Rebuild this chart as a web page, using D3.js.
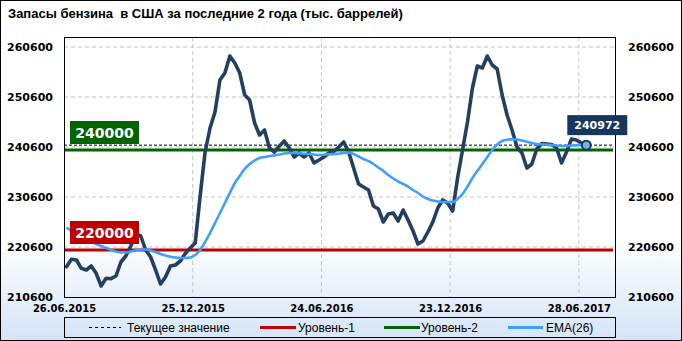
<!DOCTYPE html>
<html><head><meta charset="utf-8">
<script src="https://cdn.jsdelivr.net/npm/d3@7"></script>
<style>body{margin:0;background:#fff;} svg{display:block;}</style>
</head><body>
<svg id="c" width="682" height="341"></svg>
<script>
const title = "Запасы бензина  в США за последние 2 года (тыс. баррелей)";
// weekly gasoline stocks (thousand barrels)
const stocks = [
216660,218140,218000,216340,216000,216800,215340,212800,214340,214260,
214800,217600,218800,220800,223200,222800,220000,218600,216000,213200,
214600,216800,217000,217800,219300,220400,221400,230800,239600,244400,
247600,254000,255400,258800,257400,255400,251000,250000,245400,243000,
244000,240400,239600,240800,241800,240400,238600,239400,238600,239400,
237400,238000,238600,239400,239700,240600,241600,239600,236400,233200,
232600,232000,228800,228200,225600,227200,227400,225800,228000,226000,
223800,221200,221800,223600,225600,228400,230000,229400,227800,234400,
240000,245600,252400,256800,256400,258800,257000,256200,251000,247000,
244000,240600,239400,236400,237200,240200,241300,241200,241100,240400,
237400,239600,242200,242000,241400,240972
];
const ema26 = [
224500,223800,223200,222700,222200,221700,221200,220800,220400,220000,
219700,219500,219500,219700,219900,220100,220100,219900,219600,219200,
218900,218660,218500,218400,218400,218500,219000,220000,221600,223400,
225400,227400,229400,231400,233400,234800,236200,237200,237900,238400,
238600,238800,238900,239100,239300,239400,239400,239340,239260,239200,
239100,239000,239060,239140,239200,239260,239400,239500,239200,238700,
238200,237800,237200,236500,235800,235000,234300,233700,233200,232700,
232000,231400,230700,230200,229900,229700,229600,229600,229600,230200,
231200,232700,234400,235800,237200,238600,240000,241100,241800,242060,
242140,242100,241900,241660,241400,241200,241140,241060,241000,240900,
240800,240800,240900,240940,241000,241000
];
const yTicks = [210600,220600,230600,240600,250600,260600];
const xTickIdx = [0,26,52,78,104];
const xTickLabels = ["26.06.2015","25.12.2015","24.06.2016","23.12.2016","28.06.2017"];
const level1 = 220000;
const level2 = 240000;
const currentValue = 240972;
const legendNames = ["Текущее значение","Уровень-1","Уровень-2","EMA(26)"];

const W = 682, H = 341;
const P = {l:64, r:616, t:37, b:297};
const svg = d3.select("#c");
const defs = svg.append("defs");
const grad = defs.append("linearGradient").attr("id","bg").attr("x1",0).attr("y1",0).attr("x2",0).attr("y2",1);
grad.append("stop").attr("offset","0%").attr("stop-color","#ffffff");
grad.append("stop").attr("offset","70%").attr("stop-color","#ffffff");
grad.append("stop").attr("offset","100%").attr("stop-color","#d4e4f7");
svg.append("rect").attr("x",0.5).attr("y",0.5).attr("width",W-1).attr("height",H-1)
  .attr("fill","url(#bg)").attr("stroke","#000");

const x = d3.scaleLinear().domain([-0.5, 111]).range([P.l, P.r]);
const y = d3.scaleLinear().domain([210600, 262600]).range([P.b, P.t]);

// title
svg.append("text").attr("x",8).attr("y",18).text(title)
  .style("white-space","pre")
  .attr("font-family","'Liberation Sans', Arial, sans-serif").attr("font-weight","bold")
  .attr("font-size",13).attr("fill","#000");

// grid
const g = svg.append("g");
g.selectAll(".hg").data(yTicks.filter(v=>v>210600)).join("line")
  .attr("x1",P.l).attr("x2",P.r).attr("y1",d=>y(d)).attr("y2",d=>y(d))
  .attr("stroke","#c4c4c4").attr("stroke-dasharray","4,3");
g.selectAll(".vg").data(xTickIdx.slice(1)).join("line")
  .attr("x1",d=>x(d-0.5)).attr("x2",d=>x(d-0.5)).attr("y1",P.t).attr("y2",P.b)
  .attr("stroke","#c4c4c4").attr("stroke-dasharray","4,3");

// axes
const tickFont = s => s.attr("font-family","'DejaVu Sans', Verdana, sans-serif").attr("font-weight","bold").attr("font-size",11).attr("fill","#000");
const ax1 = svg.append("g").attr("transform",`translate(${P.l},0)`)
  .call(d3.axisLeft(y).tickValues(yTicks).tickSize(0).tickPadding(11).tickFormat(d3.format("d")));
const ax2 = svg.append("g").attr("transform",`translate(${P.r},0)`)
  .call(d3.axisRight(y).tickValues(yTicks).tickSize(0).tickPadding(12).tickFormat(d3.format("d")));
const ax3 = svg.append("g").attr("transform",`translate(0,${P.b})`)
  .call(d3.axisBottom(x).tickValues(xTickIdx.map(i=>i-0.5)).tickSize(0).tickPadding(8)
    .tickFormat((d,i)=>xTickLabels[i]));
[ax1,ax2,ax3].forEach(a=>{a.select(".domain").remove(); tickFont(a.selectAll("text"));});
ax3.selectAll("text").attr("font-size",10);

// level lines
svg.append("line").attr("x1",P.l).attr("x2",P.r-3).attr("y1",y(level1)).attr("y2",y(level1))
  .attr("stroke","#c00000").attr("stroke-width",3);
svg.append("line").attr("x1",P.l).attr("x2",P.r-3).attr("y1",y(level2)).attr("y2",y(level2))
  .attr("stroke","#006400").attr("stroke-width",3);
// current value dashed
svg.append("line").attr("x1",P.l).attr("x2",P.r-3).attr("y1",y(currentValue)).attr("y2",y(currentValue))
  .attr("stroke","#000").attr("stroke-width",1).attr("stroke-dasharray","3,2");

// series
const line = d3.line().x((d,i)=>x(i)).y(d=>y(d));
svg.append("path").datum(stocks).attr("d",line).attr("fill","none")
  .attr("stroke","#243f62").attr("stroke-width",3.6).attr("stroke-linejoin","round").attr("stroke-linecap","round");
svg.append("path").datum(ema26).attr("d",line.curve(d3.curveMonotoneX)).attr("fill","none")
  .attr("stroke","#3fa0fc").attr("stroke-width",2.6).attr("stroke-linejoin","round");

// plot border
svg.append("rect").attr("x",P.l+0.5).attr("y",P.t+0.5).attr("width",P.r-P.l-1).attr("height",P.b-P.t)
  .attr("fill","none").attr("stroke","#000");

// level labels
function levelLabel(v, color){
  const yy = y(v);
  svg.append("rect").attr("x",70).attr("y",yy-29).attr("width",69).attr("height",23).attr("fill",color);
  svg.append("text").attr("x",104.5).attr("y",yy-12).attr("text-anchor","middle").text(d3.format("d")(v))
    .attr("font-family","'DejaVu Sans', Verdana, sans-serif").attr("font-weight","bold").attr("font-size",14).attr("fill","#fff");
}
levelLabel(level2,"#006400");
levelLabel(level1,"#c00000");

// last point marker
const li = stocks.length-1;
svg.append("circle").attr("cx",x(li)).attr("cy",y(stocks[li])).attr("r",4.5)
  .attr("fill","#6fb6f0").attr("stroke","#1b355a").attr("stroke-width",2);
// current value label
const cy = y(currentValue);
svg.append("rect").attr("x",x(li)-19).attr("y",cy-30).attr("width",60).attr("height",20).attr("fill","#17365d");
svg.append("text").attr("x",x(li)+11).attr("y",cy-16).attr("text-anchor","middle").text(d3.format("d")(currentValue))
  .attr("font-family","'DejaVu Sans', Verdana, sans-serif").attr("font-weight","bold").attr("font-size",11).attr("fill","#fff");

// legend
const L = {x:P.l, y:317, w:P.r-P.l, h:20};
svg.append("rect").attr("x",L.x+0.5).attr("y",L.y+0.5).attr("width",L.w-1).attr("height",L.h).attr("fill","none").attr("stroke","#000");
const ly = L.y + 10.5;
const legendSample = [
  {x1:89, x2:121, stroke:"#000", w:1, dash:"3,3"},
  {x1:260, x2:296, stroke:"#c00000", w:3, dash:null},
  {x1:384, x2:420, stroke:"#006400", w:3, dash:null},
  {x1:508, x2:543, stroke:"#3fa0fc", w:3, dash:null}
];
const legendTextX = [127, 298, 421, 546];
legendNames.forEach((n,i)=>{
  const s = legendSample[i];
  svg.append("line").attr("x1",s.x1).attr("x2",s.x2).attr("y1",ly).attr("y2",ly)
    .attr("stroke",s.stroke).attr("stroke-width",s.w).attr("stroke-dasharray",s.dash);
  svg.append("text").attr("x",legendTextX[i]).attr("y",ly+4).text(n)
    .attr("font-family","'Liberation Sans', Arial, sans-serif").attr("font-size",12).attr("fill","#000");
});
</script>
</body></html>
